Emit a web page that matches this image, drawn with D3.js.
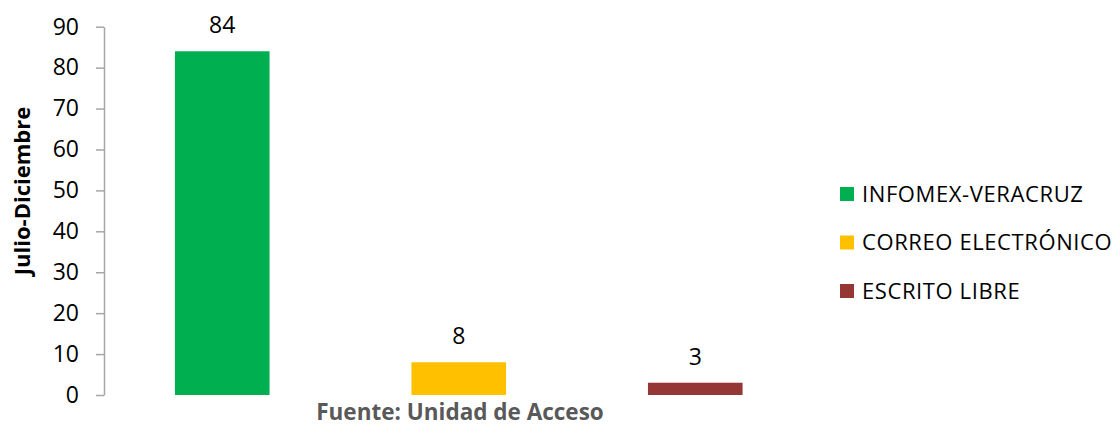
<!DOCTYPE html>
<html><head><meta charset="utf-8">
<script src="https://cdn.jsdelivr.net/npm/d3@7"></script>
<style>body{margin:0;background:#fff}svg{display:block}text{font-family:"Open Sans",Lato,sans-serif}</style>
</head><body>
<svg id="chart" width="1117" height="427"></svg>
<script>
const categories = ["INFOMEX-VERACRUZ", "CORREO ELECTRÓNICO", "ESCRITO LIBRE"];
const values = [84, 8, 3];
const colors = ["#00B050", "#FFC000", "#953735"];
const yTicks = [0, 10, 20, 30, 40, 50, 60, 70, 80, 90];
const yTitle = "Julio-Diciembre";
const xTitle = "Fuente: Unidad de Acceso";

const svg = d3.select("#chart");
const x0 = 104, x1 = 813.5, yTop = 26.7, yBot = 395;
const x = d3.scaleBand().domain(categories).range([x0, x1]).paddingInner(0.6).paddingOuter(0.3);
const y = d3.scaleLinear().domain([0, 90]).range([yBot, yTop]);

const yAxis = svg.append("g").attr("transform", `translate(${x0},0)`)
  .call(d3.axisLeft(y).tickValues(yTicks).tickSize(8).tickPadding(17).tickSizeOuter(0));
yAxis.select(".domain").attr("stroke", "#A6A6A6").attr("stroke-width", 1.5);
yAxis.selectAll(".tick line").attr("stroke", "#A6A6A6").attr("stroke-width", 1.5);
yAxis.selectAll(".tick text").attr("font-size", 23).attr("fill", "#000").style("font-family", "Open Sans");

svg.selectAll("rect.bar").data(values).enter().append("rect")
  .attr("class", "bar")
  .attr("x", (d, i) => x(categories[i]))
  .attr("width", x.bandwidth())
  .attr("y", d => y(d))
  .attr("height", d => y(0) - y(d))
  .attr("fill", (d, i) => colors[i]);

svg.selectAll("text.val").data(values).enter().append("text")
  .attr("class", "val")
  .attr("x", (d, i) => x(categories[i]) + x.bandwidth() / 2)
  .attr("y", d => y(d) - 18)
  .attr("text-anchor", "middle")
  .attr("font-size", 23)
  .attr("fill", "#000")
  .text(d => d);

svg.append("text")
  .attr("transform", `translate(30,191) rotate(-90)`)
  .attr("text-anchor", "middle")
  .attr("font-size", 22).attr("font-weight", "bold").attr("fill", "#000")
  .text(yTitle);

svg.append("text")
  .attr("x", 460).attr("y", 420)
  .attr("text-anchor", "middle")
  .attr("font-size", 22.5).attr("font-weight", "bold").attr("fill", "#595959")
  .text(xTitle);

const leg = svg.append("g");
categories.forEach((c, i) => {
  const ly = 194 + i * 48.5;
  leg.append("rect").attr("x", 840).attr("y", ly - 7).attr("width", 14).attr("height", 14).attr("fill", colors[i]);
  leg.append("text").attr("x", 862).attr("y", ly + 7.5).attr("font-size", 22).attr("letter-spacing", 0.6).attr("fill", "#000").text(c);
});
</script>
</body></html>
